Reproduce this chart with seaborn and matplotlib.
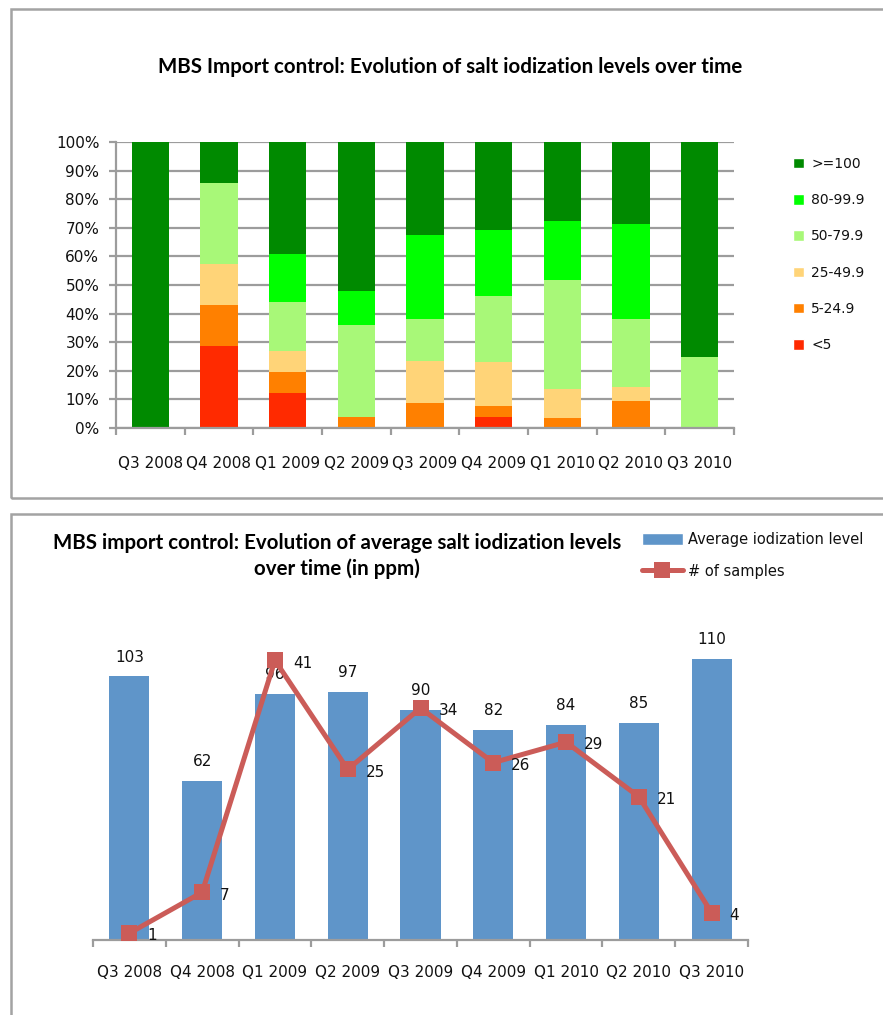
import numpy as np
import pandas as pd
import matplotlib
matplotlib.use("Agg")
import matplotlib.pyplot as plt
import seaborn as sns
from matplotlib.patches import Rectangle, Patch
from matplotlib.lines import Line2D

# ---------------- data ----------------
quarters = ["Q3 2008", "Q4 2008", "Q1 2009", "Q2 2009", "Q3 2009",
            "Q4 2009", "Q1 2010", "Q2 2010", "Q3 2010"]

level_names = ["<5", "5-24.9", "25-49.9", "50-79.9", "80-99.9", ">=100"]
pct_lt5 = [0, 28.6, 12.2, 0, 0, 3.8, 0, 0, 0]
pct_5_25 = [0, 14.3, 7.3, 4.0, 8.8, 3.8, 3.4, 9.5, 0]
pct_25_50 = [0, 14.3, 7.3, 0, 14.7, 15.4, 10.3, 4.8, 0]
pct_50_80 = [0, 28.6, 17.1, 32.0, 14.7, 23.1, 37.9, 23.8, 25.0]
pct_80_100 = [0, 0, 17.1, 12.0, 29.4, 23.1, 20.7, 33.3, 0]
pct_ge100 = [100, 14.3, 39.0, 52.0, 32.4, 30.8, 27.6, 28.6, 75.0]

avg_level = [103, 62, 96, 97, 90, 82, 84, 85, 110]
n_samples = [1, 7, 41, 25, 34, 26, 29, 21, 4]

level_colors = ["#ff2a00", "#ff8000", "#ffd478", "#a8f878", "#00ff00", "#008a00"]
bar_blue = "#5f95c9"
line_red = "#cb5c58"
grid_c = "#9c9c9c"

title_top = "MBS Import control: Evolution of salt iodization levels over time"
title_bottom = "MBS import control: Evolution of average salt iodization levels\nover time (in ppm)"

# ---------------- style ----------------
sns.set_theme(style="white")
plt.rcParams["font.family"] = ["DejaVu Sans"]
plt.rcParams["text.color"] = "#000000"
title_family = ["Lato", "DejaVu Sans"]

W, H = 883, 1015
fig = plt.figure(figsize=(W / 100, H / 100), dpi=100)


def fx(px):
    return px / W


def fy(py):
    return 1 - py / H


# panel borders
fig.patches.append(Rectangle((fx(11), fy(498)), fx(1000), (498 - 9) / H,
                             transform=fig.transFigure, fill=False,
                             ec="#a3a3a3", lw=1.8))
fig.patches.append(Rectangle((fx(11), fy(1030)), fx(1000), (1030 - 514) / H,
                             transform=fig.transFigure, fill=False,
                             ec="#a3a3a3", lw=1.8))

# ---------------- top chart ----------------
ax1 = fig.add_axes([fx(116), fy(428), (734 - 116) / W, (428 - 142) / H])
ax1.set_axisbelow(True)
ax1.yaxis.grid(True, color=grid_c, lw=1.6)

series = np.array([pct_lt5, pct_5_25, pct_25_50, pct_50_80, pct_80_100, pct_ge100])
cum = np.cumsum(series, axis=0)
for i in range(len(level_names) - 1, -1, -1):
    sns.barplot(x=quarters, y=cum[i], color=level_colors[i], width=0.54,
                saturation=1, errorbar=None, linewidth=0, ax=ax1, zorder=2)

ax1.set_ylim(0, 100)
ax1.set_xlim(-0.5, len(quarters) - 0.5)
ax1.set_yticks(np.arange(0, 101, 10))
ax1.set_yticklabels([f"{v}%" for v in range(0, 101, 10)])
ax1.set_xticks(np.arange(-0.5, len(quarters)), labels=[""] * (len(quarters) + 1))
ax1.set_xticks(np.arange(len(quarters)), labels=quarters, minor=True)
ax1.tick_params(axis="y", left=True, length=5, width=1.6, color=grid_c,
                pad=7, labelsize=11, labelcolor="#111111")
ax1.tick_params(axis="x", which="major", bottom=True, length=5, width=1.6,
                color=grid_c, direction="out")
ax1.tick_params(axis="x", which="minor", bottom=True, length=0, pad=20,
                labelsize=11, labelcolor="#111111")
ax1.set_xlabel("")
ax1.set_ylabel("")
for s in ["top", "right"]:
    ax1.spines[s].set_visible(False)
for s in ["left", "bottom"]:
    ax1.spines[s].set_color(grid_c)
    ax1.spines[s].set_linewidth(1.6)

handles = [Patch(facecolor=level_colors[i], label=level_names[i])
           for i in range(len(level_names) - 1, -1, -1)]
fig.legend(handles=handles, loc="upper left", bbox_to_anchor=(fx(793), fy(157)),
           frameon=False, fontsize=10, handlelength=0.8, handleheight=0.8,
           handletextpad=0.5, labelspacing=1.6, borderpad=0, borderaxespad=0,
           labelcolor="#111111")

fig.text(fx(450), fy(67), title_top, ha="center", va="center", fontsize=14.8,
         fontweight="bold", family=title_family)

# ---------------- bottom chart ----------------
ax2 = fig.add_axes([fx(93), fy(940), (748 - 93) / W, (940 - 633) / H])
sns.barplot(x=quarters, y=avg_level, color=bar_blue, width=0.55, saturation=1,
            errorbar=None, linewidth=0, ax=ax2)
ax2.set_ylim(0, 120)
ax2.set_xlim(-0.5, len(quarters) - 0.5)
for i, v in enumerate(avg_level):
    ax2.annotate(str(v), (i, v), xytext=(0, 14), textcoords="offset points",
                 ha="center", va="center", fontsize=11, color="#111111")

axt = ax2.twinx()
sns.lineplot(x=np.arange(len(quarters)), y=n_samples, ax=axt, color=line_red,
             lw=3.6, marker="s", markersize=11, markeredgewidth=0)
axt.set_ylim(0, 45)
axt.set_xlim(-0.5, len(quarters) - 0.5)
for i, v in enumerate(n_samples):
    axt.annotate(str(v), (i, v), xytext=(13, -2), textcoords="offset points",
                 ha="left", va="center", fontsize=11, color="#111111")

ax2.set_yticks([])
axt.set_yticks([])
ax2.set_xticks(np.arange(-0.5, len(quarters)), labels=[""] * (len(quarters) + 1))
ax2.set_xticks(np.arange(len(quarters)), labels=quarters, minor=True)
ax2.tick_params(axis="x", which="major", bottom=True, length=5, width=1.6,
                color=grid_c, direction="out")
ax2.tick_params(axis="x", which="minor", bottom=True, length=0, pad=18,
                labelsize=11, labelcolor="#111111")
ax2.set_xlabel("")
ax2.set_ylabel("")
axt.set_ylabel("")
for s in ["top", "right", "left"]:
    ax2.spines[s].set_visible(False)
for s in ["top", "right", "left", "bottom"]:
    axt.spines[s].set_visible(False)
ax2.spines["bottom"].set_color(grid_c)
ax2.spines["bottom"].set_linewidth(1.6)

handles2 = [Patch(facecolor=bar_blue, label="Average iodization level"),
            Line2D([0], [0], color=line_red, lw=3.6, marker="s", markersize=11,
                   markeredgewidth=0, label="# of samples")]
fig.legend(handles=handles2, loc="upper left", bbox_to_anchor=(fx(642), fy(532)),
           frameon=False, fontsize=10.5, handlelength=2.8, handleheight=0.8,
           handletextpad=0.35, labelspacing=1.15, borderpad=0, borderaxespad=0,
           labelcolor="#111111")

fig.text(fx(337), fy(556), title_bottom, ha="center", va="center", fontsize=14.8,
         fontweight="bold", family=title_family, linespacing=1.35)

fig.savefig("out.png", dpi=100)
